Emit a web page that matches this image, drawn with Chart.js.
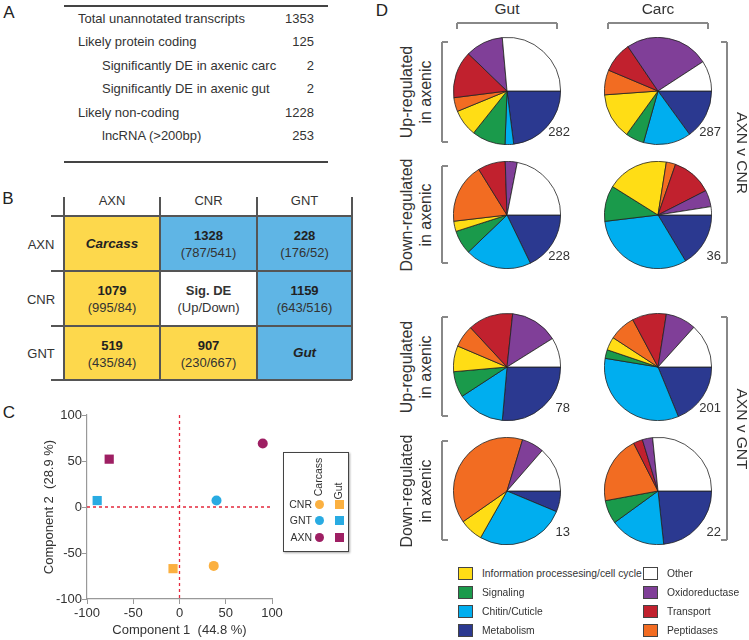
<!DOCTYPE html>
<html>
<head>
<meta charset="utf-8">
<script src="https://cdn.jsdelivr.net/npm/chart.js@4.4.0/dist/chart.umd.min.js"></script>
<style>
html, body { margin: 0; padding: 0; background: #fff; }
body { width: 749px; height: 640px; position: relative; overflow: hidden;
       font-family: "Liberation Sans", Arial, sans-serif; color: #333; }
.abs { position: absolute; white-space: nowrap; line-height: 1; }
canvas { position: absolute; }
</style>
</head>
<body>
<script>
// ---- Panel A: unannotated transcript summary
const summaryLabels = ['Total unannotated transcripts', 'Likely protein coding',
  'Significantly DE in axenic carc', 'Significantly DE in axenic gut',
  'Likely non-coding', 'lncRNA (>200bp)'];
const summaryCounts = [1353, 125, 2, 2, 1228, 253];
const summaryIndent = [0, 0, 1, 1, 0, 1];

// ---- Panel B: significant DE genes, total (up/down)
const deGroups = ['AXN', 'CNR', 'GNT'];
const deTotal = [[null, 1328, 228], [1079, null, 1159], [519, 907, null]];
const deUp = [[null, 787, 176], [995, null, 643], [435, 230, null]];
const deDown = [[null, 541, 52], [84, null, 516], [84, 667, null]];

// ---- Panel C: PCA
const pcaGroups = ['CNR', 'GNT', 'AXN'];
const carcassPc1 = [37, 40, 90];
const carcassPc2 = [-64, 7, 69];
const gutPc1 = [-7, -89, -76];
const gutPc2 = [-67, 7, 52];
const groupColors = ['#fbb040', '#29abe2', '#9e1f63'];

// ---- Panel D: functional categories (% of genes), clockwise from 3 o'clock
const categories = ['Metabolism', 'Chitin/Cuticle', 'Signaling',
  'Information processesing/cell cycle', 'Peptidases', 'Transport', 'Oxidoreductase', 'Other'];
const categoryColors = ['#2b3990', '#00aeef', '#1a9a4b', '#ffdd15',
  '#f26c22', '#c1212e', '#803f98', '#ffffff'];
const gutUpCnr = [23, 2.6, 10.1, 8.1, 4.2, 14.2, 11.4, 26.4];
const carcUpCnr = [15, 14.4, 5.6, 13.9, 7.5, 9.2, 25.3, 9.2];
const gutDownCnr = [17.8, 20, 7.2, 3.1, 18, 8.3, 3.6, 21.9];
const carcDownCnr = [16.4, 31.7, 10.8, 18.6, 2.8, 12.2, 5, 2.5];
const gutUpGnt = [26.4, 14.4, 7.8, 7.8, 6.7, 13.6, 14.4, 8.9];
const carcUpGnt = [18.8, 33.8, 2.6, 4, 8, 10.3, 9.2, 13.3];
const gutDownGnt = [6.3, 26.9, 0, 7.1, 39.4, 0, 6.7, 13.6];
const carcDownGnt = [23.3, 16.7, 7.1, 0, 20.4, 2.8, 3.1, 26.6];
const pieCounts = [282, 287, 228, 36, 78, 201, 13, 22];

Chart.defaults.font.family = '"Liberation Sans", Arial, sans-serif';
Chart.defaults.color = '#333';

// small helpers for the static parts
function txt(s, x, y, o) {
  o = o || {};
  const d = document.createElement('div');
  d.className = 'abs';
  d.textContent = s;
  d.style.left = x + 'px';
  d.style.top = y + 'px';
  d.style.fontSize = (o.size || 13) + 'px';
  if (o.weight) d.style.fontWeight = o.weight;
  if (o.italic) d.style.fontStyle = 'italic';
  if (o.color) d.style.color = o.color;
  const tx = o.align === 'l' ? '0' : o.align === 'r' ? '-100%' : '-50%';
  d.style.transform = 'translate(' + tx + ',-50%)' + (o.rot ? ' rotate(' + o.rot + 'deg)' : '');
  document.body.appendChild(d);
  return d;
}
function box(x, y, w, h, css) {
  const d = document.createElement('div');
  d.className = 'abs';
  Object.assign(d.style, { left: x + 'px', top: y + 'px', width: w + 'px', height: h + 'px' }, css || {});
  document.body.appendChild(d);
  return d;
}
function hline(x1, x2, y, c, w) { w = w || 1; return box(x1, y - w / 2, x2 - x1, w, { background: c }); }
function vline(x, y1, y2, c, w) { w = w || 1; return box(x - w / 2, y1, w, y2 - y1, { background: c }); }

// panel letters
txt('A', 9, 12, { size: 17, color: '#222' });
txt('B', 8, 198, { size: 17, color: '#222' });
txt('C', 9, 412, { size: 17, color: '#222' });
txt('D', 382, 10, { size: 17, color: '#222' });

// ---- A
hline(64, 328, 6, '#444', 1.4);
hline(64, 328, 162, '#444', 1.4);
summaryLabels.forEach((lab, i) => {
  const y = 18 + i * 23.4;
  txt(lab, summaryIndent[i] ? 102 : 78, y, { size: 13, align: 'l' });
  txt(String(summaryCounts[i]), 314, y, { size: 13, align: 'r' });
});

// ---- B
const colX = [64, 160, 257, 352];
const rowY = [216, 271, 326, 380];
const yellow = '#fdd84c', blue = '#5fb5e5';
for (let r = 0; r < 3; r++) {
  for (let c = 0; c < 3; c++) {
    let bg = c < r || (r === 0 && c === 0) ? yellow : blue;
    if (r === 1 && c === 1) bg = '#fff';
    box(colX[c], rowY[r], colX[c + 1] - colX[c], rowY[r + 1] - rowY[r], { background: bg });
    const cx = (colX[c] + colX[c + 1]) / 2, cy = (rowY[r] + rowY[r + 1]) / 2;
    if (r === c) {
      if (r === 1) {
        txt('Sig. DE', cx, cy - 8.5, { size: 13, weight: 'bold' });
        txt('(Up/Down)', cx, cy + 8.5, { size: 13 });
      } else {
        txt(r === 0 ? 'Carcass' : 'Gut', cx, cy, { size: 13.5, weight: 'bold', italic: true, color: '#222' });
      }
    } else {
      txt(String(deTotal[r][c]), cx, cy - 8.5, { size: 13, weight: 'bold', color: '#222' });
      txt('(' + deUp[r][c] + '/' + deDown[r][c] + ')', cx, cy + 8.5, { size: 13 });
    }
  }
}
rowY.forEach(y => hline(51, 352, y, '#555', 1.3));
colX.forEach(x => vline(x, 197, 380, '#555', 1.3));
deGroups.forEach((g, i) => {
  txt(g, (colX[i] + colX[i + 1]) / 2, 200, { size: 13 });
  txt(g, 41, (rowY[i] + rowY[i + 1]) / 2, { size: 13 });
});

// ---- C: scatter
const pcaCanvas = document.createElement('canvas');
pcaCanvas.width = 370; pcaCanvas.height = 240;
pcaCanvas.style.left = '0px'; pcaCanvas.style.top = '400px';
document.body.appendChild(pcaCanvas);

const zeroLines = {
  id: 'zeroLines',
  beforeDatasetsDraw(chart) {
    const { ctx, chartArea, scales: { x, y } } = chart;
    const x0 = x.getPixelForValue(0), y0 = y.getPixelForValue(0);
    ctx.save();
    ctx.strokeStyle = '#e4293d';
    ctx.lineWidth = 1.3;
    ctx.setLineDash([3, 3]);
    ctx.beginPath();
    ctx.moveTo(x0, chartArea.top); ctx.lineTo(x0, chartArea.bottom);
    ctx.moveTo(chartArea.left, y0); ctx.lineTo(chartArea.right, y0);
    ctx.stroke();
    ctx.restore();
  }
};

new Chart(pcaCanvas, {
  type: 'scatter',
  data: {
    datasets: [{
      label: 'Carcass',
      data: pcaGroups.map((g, i) => ({ x: carcassPc1[i], y: carcassPc2[i] })),
      pointStyle: 'circle',
      pointRadius: 5,
      borderWidth: 0,
      backgroundColor: groupColors,
    }, {
      label: 'Gut',
      data: pcaGroups.map((g, i) => ({ x: gutPc1[i], y: gutPc2[i] })),
      pointStyle: 'rect',
      pointRadius: 6.5,
      borderWidth: 0,
      backgroundColor: groupColors,
    }],
  },
  options: {
    responsive: false,
    animation: false,
    layout: { autoPadding: false, padding: { left: 42, top: 15, right: 98, bottom: 2 } },
    plugins: { legend: { display: false }, tooltip: { enabled: false } },
    scales: {
      x: {
        min: -100, max: 100,
        ticks: { stepSize: 50, font: { size: 13 }, padding: 2, maxRotation: 0, autoSkip: false },
        grid: { drawOnChartArea: false, tickLength: 5, color: '#999' },
        border: { color: '#999', width: 1.2 },
        title: { display: true, text: 'Component 1  (44.8 %)', font: { size: 13 }, padding: { top: 0, bottom: 0 } },
        afterFit(s) { s.height = 39; },
      },
      y: {
        min: -100, max: 100,
        ticks: { stepSize: 50, font: { size: 13 }, padding: 0 },
        grid: { drawOnChartArea: false, tickLength: 5, color: '#999' },
        border: { color: '#999', width: 1.2 },
        title: { display: true, text: 'Component 2  (28.9 %)', font: { size: 13 }, padding: { top: 0, bottom: 0 } },
        afterFit(s) { s.width = 45; },
      },
    },
  },
  plugins: [zeroLines],
});

// legend box for C
box(283, 452, 64, 98, { border: '1.6px solid #444', boxShadow: '1px 1px 2px rgba(0,0,0,0.35)', background: '#fff' });
txt('Carcass', 318, 477, { size: 10.5, rot: -90 });
txt('Gut', 338, 491, { size: 10.5, rot: -90 });
const legY = [504, 520, 537];
pcaGroups.forEach((g, i) => {
  txt(g, 312, legY[i], { size: 10.5, align: 'r' });
  box(319 - 4.5, legY[i] - 4.5, 9, 9, { background: groupColors[i], borderRadius: '50%' });
  box(339 - 4.5, legY[i] - 4.5, 9, 9, { background: groupColors[i] });
});

// ---- D: pies
const pieX = [507, 658];
const pieY = [91, 215, 367, 491];
const pieSets = [gutUpCnr, carcUpCnr, gutDownCnr, carcDownCnr, gutUpGnt, carcUpGnt, gutDownGnt, carcDownGnt];
pieSets.forEach((vals, k) => {
  const cx = pieX[k % 2], cy = pieY[Math.floor(k / 2)];
  const cv = document.createElement('canvas');
  cv.width = 108; cv.height = 108;
  cv.style.left = (cx - 54) + 'px'; cv.style.top = (cy - 54) + 'px';
  document.body.appendChild(cv);
  new Chart(cv, {
    type: 'pie',
    data: {
      labels: categories,
      datasets: [{
        data: vals,
        backgroundColor: categoryColors,
        borderColor: '#222',
        borderWidth: 0.8,
        hoverOffset: 0,
      }],
    },
    options: {
      responsive: false,
      animation: false,
      rotation: 90,
      layout: { padding: 0 },
      plugins: { legend: { display: false }, tooltip: { enabled: false } },
    },
  });
  txt(String(pieCounts[k]), cx + 63, cy + 40, { size: 13, align: 'r' });
});

// column headers + brackets
const brk = '#888';
txt('Gut', 507, 9, { size: 15.5 });
txt('Carc', 658, 9, { size: 15.5 });
[[457, 557], [608, 708]].forEach(([a, b]) => {
  hline(a, b, 23, brk, 1.2);
  vline(a, 23, 29, brk, 1.2);
  vline(b, 23, 29, brk, 1.2);
});

// row labels + left brackets
const rowSpan = [[42, 142], [166, 263], [317, 416], [441, 540]];
const rowLab = ['Up-regulated', 'Down-regulated', 'Up-regulated', 'Down-regulated'];
rowSpan.forEach(([a, b], i) => {
  vline(442, a, b, brk, 1.2);
  hline(442, 448, a, brk, 1.2);
  hline(442, 448, b, brk, 1.2);
  const cy = (a + b) / 2;
  txt(rowLab[i], 407, cy, { size: 16, rot: -90 });
  txt('in axenic', 426, cy, { size: 16, rot: -90 });
});

// right brackets
[[42, 263, 'AXN v CNR'], [317, 540, 'AXN v GNT']].forEach(([a, b, s]) => {
  vline(727, a, b, brk, 1.2);
  hline(721, 727, a, brk, 1.2);
  hline(721, 727, b, brk, 1.2);
  txt(s, 742, (a + b) / 2, { size: 15.5, rot: 90 });
});

// legend for D
const legendOrder = [[3, 2, 1, 0], [7, 6, 5, 4]];
const legRows = [574, 593, 612, 631];
legendOrder.forEach((col, ci) => {
  const sx = ci === 0 ? 458 : 643;
  col.forEach((k, ri) => {
    box(sx, legRows[ri] - 7, 15, 13, { background: categoryColors[k], border: '0.8px solid #444', boxSizing: 'border-box' });
    txt(categories[k], sx + 24, legRows[ri], { size: 10.3, align: 'l' });
  });
});
</script>
</body>
</html>
